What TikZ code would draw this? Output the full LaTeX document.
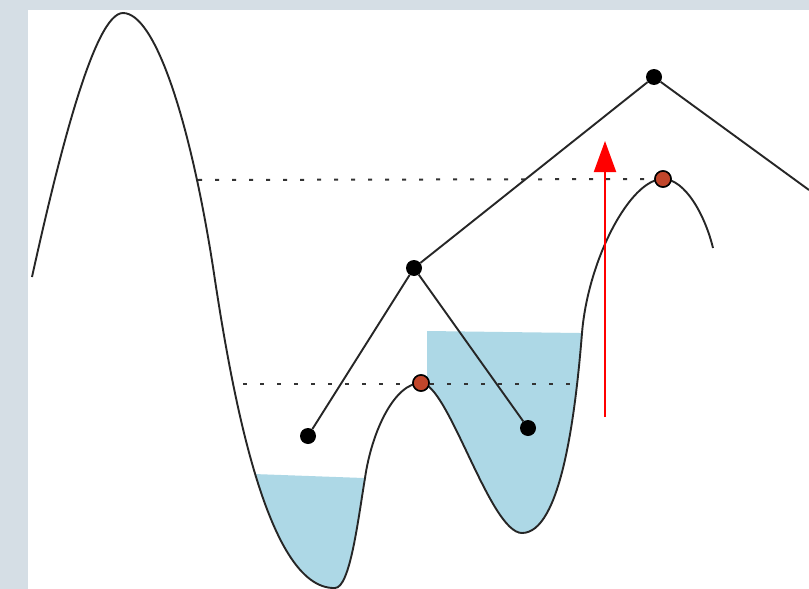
\documentclass[tikz,border=0pt]{standalone}
\usetikzlibrary{arrows.meta}
\definecolor{pagebg}{HTML}{D5DEE5}
\definecolor{pool}{HTML}{ADD8E6}
\definecolor{saddlered}{HTML}{C1462B}
\definecolor{levelgray}{HTML}{333333}
\tikzset{
  mindot/.style={circle,fill=black,inner sep=0pt,minimum size=16pt},
  saddledot/.style={circle,fill=saddlered,draw=black,line width=1.5pt,inner sep=0pt,minimum size=16pt},
  terrainline/.style={line width=1.9pt,black!85},
  treeline/.style={line width=1.9pt,black!85},
  levelline/.style={levelgray,line width=2pt,dash pattern=on 4pt off 13pt},
  riser/.style={-{Triangle[length=31pt,width=22pt]},red,line width=2pt},
}
\def\terrain{(32,277) .. controls (60,150) and (95,13) .. (123,13)
  .. controls (155,13) and (190,120) .. (213,267)
  .. controls (230,380) and (265,590) .. (335,588)
  .. controls (350,588) and (358,520) .. (365,478)
  .. controls (372,430) and (395,383) .. (421,383)
  .. controls (448,383) and (490,533) .. (522,533)
  .. controls (560,533) and (575,420) .. (582,333)
  .. controls (588,260) and (630,179) .. (663,179)
  .. controls (685,179) and (705,215) .. (713,248)}

\begin{document}
\begin{tikzpicture}[x=1pt,y=-1pt]
\fill[pagebg] (0,0) rectangle (809,589);
\fill[white] (28,10) rectangle (809,589);
\useasboundingbox (0,0) rectangle (809,589);
% water in the two basins
\begin{scope}
  \clip \terrain -- (713,-20) -- (32,-20) -- cycle;
  \fill[pool] (240,473.5) -- (380,478.6) -- (380,600) -- (240,600) -- cycle;
  \fill[pool] (427,331) -- (595,333.2) -- (595,600) -- (427,600) -- cycle;
\end{scope}
\coordinate (hiL) at (198,180);
\coordinate (loL) at (243,384);
\coordinate (loR) at (578,384);
\coordinate (edge) at (809,190);
\coordinate (arrbot) at (605,417);
\coordinate (arrtop) at (605,141);
\node[saddledot] (sadL) at (421,383) {};
\node[saddledot] (sadR) at (663,179) {};
\draw[levelline] (hiL) -- (sadR);
\draw[levelline] (loL) -- (loR);
\draw[terrainline] \terrain;
% merge tree
\node[mindot] (root) at (654,77) {};
\node[mindot] (mid)  at (414,268) {};
\node[mindot] (lfA)  at (308,436) {};
\node[mindot] (lfB)  at (528,428) {};
\draw[treeline] (edge) -- (root) -- (mid);
\draw[treeline] (lfA) -- (mid) -- (lfB);
\node[saddledot] at (sadL) {};
\node[saddledot] at (sadR) {};
\draw[riser] (arrbot) -- (arrtop);
\end{tikzpicture}
\end{document}
